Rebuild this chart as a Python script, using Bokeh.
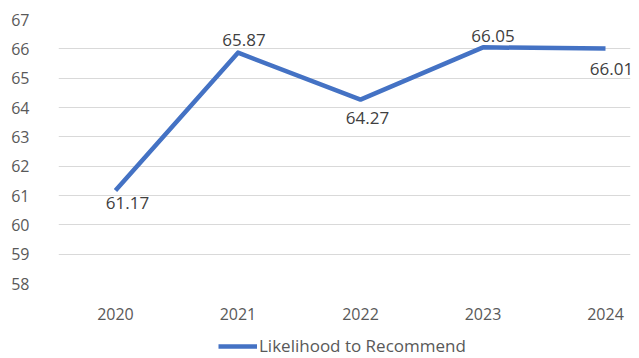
from bokeh.plotting import figure
from bokeh.layouts import column
from bokeh.models import ColumnDataSource, FixedTicker, Legend, LegendItem, Range1d, LabelSet
from bokeh.core.properties import value
from bokeh.embed import file_html
from bokeh.resources import INLINE

years = ["2020", "2021", "2022", "2023", "2024"]
scores = [61.17, 65.87, 64.27, 66.05, 66.01]
y_ticks = [58, 59, 60, 61, 62, 63, 64, 65, 66, 67]
series_name = "Likelihood to Recommend"

# label offsets (pixels) - styling only
label_dx = [12, 6, 7, 10, 6]
label_dy = [-12, 13, -18, 11, -20]

xs = list(range(len(years)))
src = ColumnDataSource(dict(
    x=xs, y=scores, txt=["%.2f" % v for v in scores],
    dx=label_dx, dy=label_dy,
))

FONT = "Open Sans"
LINE_COLOR = "#4472C4"

p = figure(width=639, height=330, output_backend="svg", toolbar_location=None,
           x_range=Range1d(-0.465, 4.204), y_range=Range1d(58, 67),
           min_border_left=58, min_border_right=9, min_border_top=19, min_border_bottom=47)
p.outline_line_color = None
p.background_fill_color = "white"
p.border_fill_color = "white"

p.xgrid.grid_line_color = None
p.ygrid.grid_line_color = "#d9d9d9"
p.ygrid.grid_line_width = 1

p.yaxis.ticker = FixedTicker(ticks=y_ticks)
p.xaxis.ticker = FixedTicker(ticks=xs)
p.xaxis.major_label_overrides = {i: y for i, y in enumerate(years)}
for ax in (p.xaxis, p.yaxis):
    ax.axis_line_color = None
    ax.major_tick_line_color = None
    ax.minor_tick_line_color = None
    ax.major_label_text_font = FONT
    ax.major_label_text_font_size = "16px"
    ax.major_label_text_color = "#595959"
p.yaxis.major_label_standoff = 23
p.xaxis.major_label_standoff = 18

p.line("x", "y", source=src, line_color=LINE_COLOR, line_width=4.5, line_join="round")

labels = LabelSet(x="x", y="y", text="txt", source=src, x_offset="dx", y_offset="dy",
                  text_align="center", text_baseline="middle",
                  text_font=value(FONT), text_font_size="17px", text_color="#404040")
p.add_layout(labels)

# legend strip below the chart (its frame is aligned with the main frame)
lg = figure(width=639, height=28, output_backend="svg", toolbar_location=None,
            x_axis_type=None, y_axis_type=None, min_border=0,
            x_range=Range1d(0, 1), y_range=Range1d(0, 1))
lg.outline_line_color = None
lg.xgrid.grid_line_color = None
lg.ygrid.grid_line_color = None
lr = lg.line("x", "y", source=src, line_color=LINE_COLOR, line_width=4.5)
legend = Legend(items=[LegendItem(label=series_name, renderers=[lr])],
                location=(160, 1), orientation="horizontal",
                border_line_color=None, background_fill_alpha=0,
                padding=0, margin=0, glyph_width=39, glyph_height=20,
                label_height=20, label_standoff=2,
                label_text_font=FONT, label_text_font_size="17px",
                label_text_color="#595959")
lg.add_layout(legend, "center")

layout = column(p, lg, spacing=0)
open("out.html", "w").write(file_html(layout, INLINE))
